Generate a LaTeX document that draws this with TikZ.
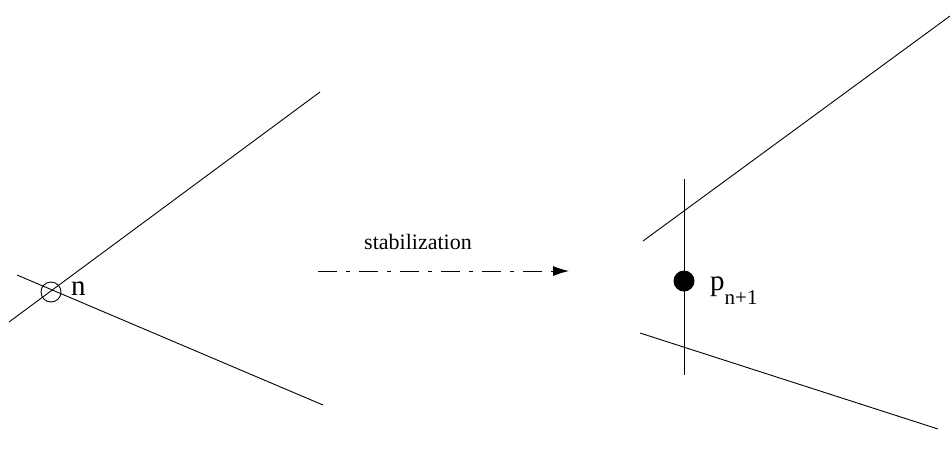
\documentclass[tikz,border=0pt]{standalone}
\usepackage{fontspec}
\setmainfont{Liberation Serif}
\usetikzlibrary{arrows.meta}
\begin{document}
\begin{tikzpicture}[x=1pt,y=-1pt,
  thinline/.style={line width=0.9pt},
  lbl/.style={font=\fontsize{22}{26}\selectfont, inner sep=0pt},
  biglbl/.style={font=\fontsize{29}{34}\selectfont, inner sep=0pt}]
\useasboundingbox (0,0) rectangle (950,459);
% left
\coordinate (a1) at (9,322); \coordinate (a2) at (320,92);
\coordinate (b1) at (17,275); \coordinate (b2) at (323,405);
\draw[thinline] (a1) -- (a2);
\draw[thinline] (b1) -- (b2);
\node[draw, circle, thinline, minimum size=20pt, inner sep=0pt] (n) at (51,292) {};
\node[biglbl, anchor=base west] (nl) at (71,295) {n};
% arrow
\coordinate (s1) at (318,271); \coordinate (s2) at (569,271);
\draw[thinline, dash pattern=on 19pt off 9pt on 4pt off 9pt, -{Latex[length=16pt,width=10pt]}] (s1) -- (s2);
\node[lbl] (st) at (418,242) {stabilization};
% right
\coordinate (v1) at (684,179); \coordinate (v2) at (684,375);
\coordinate (u1) at (643,241); \coordinate (u2) at (950,16);
\coordinate (w1) at (640,333); \coordinate (w2) at (938,429);
\draw[thinline] (v1) -- (v2);
\draw[thinline] (u1) -- (u2);
\draw[thinline] (w1) -- (w2);
\node[fill, circle, minimum size=21pt, inner sep=0pt] (p) at (684,281) {};
\node[biglbl, anchor=base west] (pl) at (710,290) {p{\fontsize{21}{24}\selectfont\raisebox{-14pt}{n+1}}};
\end{tikzpicture}
\end{document}
